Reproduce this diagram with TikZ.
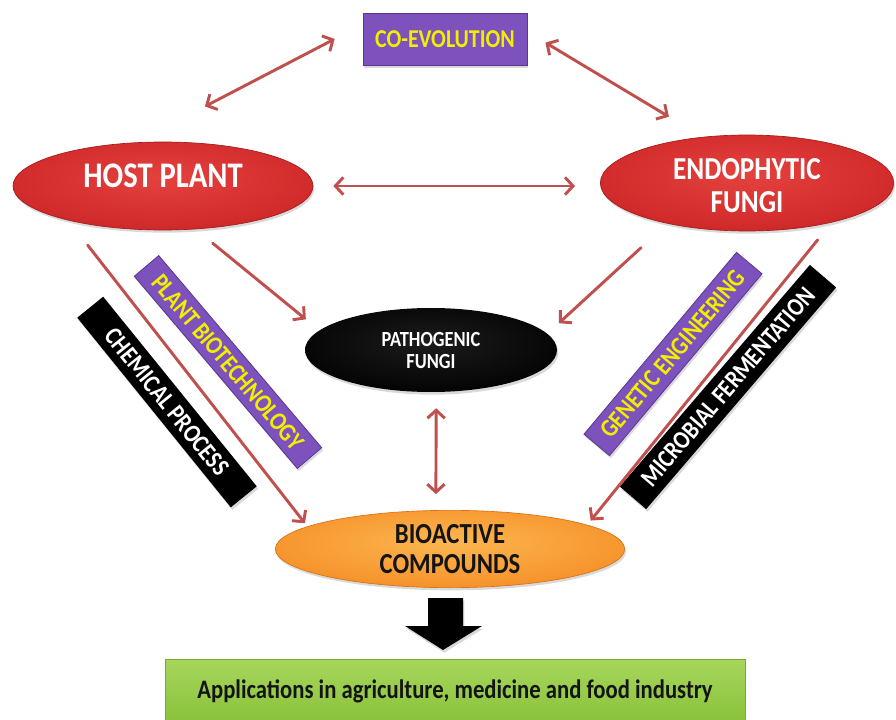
\documentclass[tikz,border=0pt]{standalone}
\usepackage{fontspec}
\setmainfont{Carlito}[FakeStretch=0.85]
\usetikzlibrary{shapes.geometric,arrows.meta,shadows}

\definecolor{linkred}{HTML}{C0504D}
\definecolor{tagpurple}{HTML}{7D52BD}
\definecolor{tagpurpleedge}{HTML}{5A3690}
\definecolor{tagyellow}{HTML}{F2EE00}
\definecolor{redlight}{HTML}{E4423F}
\definecolor{redmid}{HTML}{D22B2B}
\definecolor{reddark}{HTML}{A51B1B}
\definecolor{orlight}{HTML}{FCB650}
\definecolor{ormid}{HTML}{F7962F}
\definecolor{ordark}{HTML}{DC7214}
\definecolor{blkcore}{HTML}{1C1C1C}
\definecolor{blkedge}{HTML}{020202}
\definecolor{greentop}{HTML}{A6D65C}
\definecolor{greenbot}{HTML}{8AC23A}
\definecolor{greenedge}{HTML}{78A832}
\definecolor{inkdark}{HTML}{141414}

\pgfdeclareradialshading{redglow}{\pgfpoint{0bp}{5bp}}{color(0bp)=(redlight); color(25bp)=(redmid); color(46bp)=(reddark); color(70bp)=(reddark)}
\pgfdeclareradialshading{orangeglow}{\pgfpoint{0bp}{5bp}}{color(0bp)=(orlight); color(25bp)=(ormid); color(46bp)=(ordark); color(70bp)=(ordark)}
\pgfdeclareradialshading{blackglow}{\pgfpoint{0bp}{5bp}}{color(0bp)=(blkcore); color(30bp)=(blkedge); color(70bp)=(blkedge)}

\tikzset{
  link/.style={draw=linkred, line width=2.2pt, line cap=round,
    -{Straight Barb[length=6pt,width=13pt]}},
  twoway/.style={link,
    {Straight Barb[length=6pt,width=13pt]}-{Straight Barb[length=6pt,width=13pt]}},
  softshadow/.style={drop shadow={opacity=0.3, shadow xshift=1pt, shadow yshift=-2pt}},
  blob/.style={ellipse, inner sep=0pt, align=center, softshadow},
  redblob/.style={blob, shading=redglow, draw=reddark, line width=0.5pt, text=white},
  orangeblob/.style={blob, shading=orangeglow, draw=ordark, line width=0.5pt, text=inkdark},
  blackblob/.style={blob, shading=blackglow, text=white},
  tag/.style={rectangle, inner sep=0pt, align=center, softshadow,
    font=\bfseries\fontsize{19.3}{21}\selectfont},
  purpletag/.style={tag, fill=tagpurple, draw=tagpurpleedge, line width=0.6pt, text=tagyellow},
  blacktag/.style={tag, fill=black, text=white},
  greenbar/.style={rectangle, inner sep=0pt, top color=greentop, bottom color=greenbot,
    draw=greenedge, line width=0.6pt,
    text=inkdark, font=\bfseries\fontsize{20}{22}\selectfont},
}

\begin{document}
\begin{tikzpicture}[x=0.75pt, y=-0.75pt]
\useasboundingbox (0,0) rectangle (896,720);

% main entities
\node[purpletag, minimum width=123pt, minimum height=39pt] (coevo) at (445,39) {CO-EVOLUTION};
\node[redblob, minimum width=225pt, minimum height=66pt,
      font=\bfseries\fontsize{27}{30}\selectfont] (host) at (163,186)
      {\raisebox{7.5pt}[\height][\depth]{HOST PLANT}};
\node[redblob, minimum width=220pt, minimum height=72pt,
      font=\bfseries\fontsize{24}{25}\selectfont] (endo) at (747,183)
      {\raisebox{-5pt}[\height][\depth]{\begin{tabular}{@{}c@{}}ENDOPHYTIC\\FUNGI\end{tabular}}};
\node[blackblob, minimum width=189pt, minimum height=63pt,
      font=\bfseries\fontsize{16.2}{16.5}\selectfont] (patho) at (431,350)
      {PATHOGENIC\\FUNGI};
\node[orangeblob, minimum width=262pt, minimum height=58pt,
      font=\bfseries\fontsize{21.8}{22.5}\selectfont] (bio) at (450,549)
      {BIOACTIVE\\COMPOUNDS};
\node[greenbar, minimum width=435pt, minimum height=47pt] (apps) at (455,691)
      {Applications in agriculture, medicine and food industry};

% process labels along the long links
\node[blacktag, rotate=-51, minimum width=183pt, minimum height=25pt] (chem) at (167,402) {CHEMICAL PROCESS};
\node[purpletag, rotate=-49.7, minimum width=189pt, minimum height=24pt] (pbio) at (228,362) {PLANT BIOTECHNOLOGY};
\node[purpletag, rotate=50, minimum width=178pt, minimum height=25pt] (gene) at (673,354) {GENETIC ENGINEERING};
\node[blacktag, rotate=49.4, minimum width=219pt, minimum height=26pt] (micro) at (728,387) {MICROBIAL FERMENTATION};

% links
\draw[twoway, shorten <=58.5pt, shorten >=23.6pt] (host.122.5) -- (coevo.170.7);
\draw[twoway, shorten <=15.8pt, shorten >=29.4pt] (coevo.5.6) -- (endo.134.9);
\draw[twoway, shorten <=15pt, shorten >=18.75pt] (host.east) -- (host.east -| endo.west);
\draw[link, shorten <=16.5pt, shorten >=13pt] (host.-53.3) -- (patho.170.4);
\draw[link, shorten <=26.6pt, shorten >=11.6pt] (endo.-153.5) -- (patho.8.7);
\draw[link, shorten <=23.5pt, shorten >=3pt] (host.-160) -- (bio.171.1);
\draw[link, shorten <=16.7pt, shorten >=4.1pt] (endo.-25.9) -- (bio.10.9);
\draw[twoway, shorten <=12pt, shorten >=12pt] (patho.-83) -- (bio.110);

% block arrow towards the applications
\fill[black, softshadow] (428,598) -- (463,598) -- (463,626) -- (482,626) -- (443,650)
  -- (405,626) -- (428,626) -- cycle;
\end{tikzpicture}
\end{document}
